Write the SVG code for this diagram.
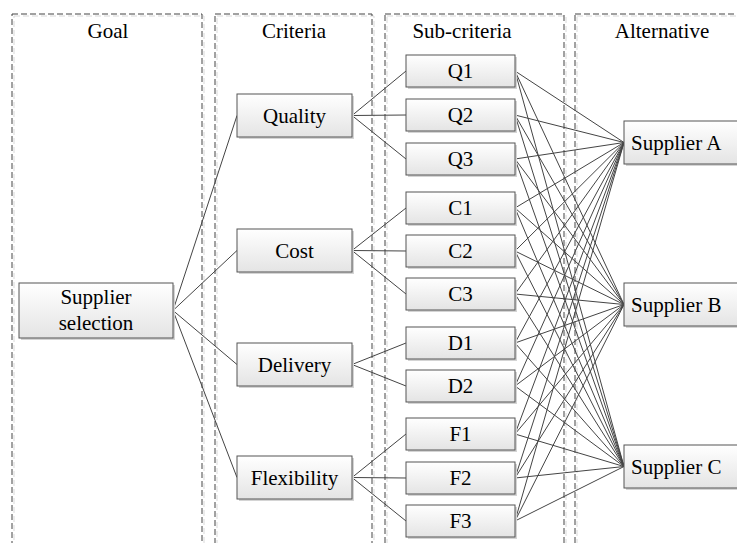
<svg xmlns="http://www.w3.org/2000/svg" width="737" height="543" viewBox="0 0 737 543">
<style>
.panel{fill:none;stroke:#444;stroke-width:1;stroke-dasharray:6,3}
.pshadow{fill:none;stroke:#d8d8d8;stroke-width:1;stroke-dasharray:6,3}
.box{fill:url(#g);stroke:#555;stroke-width:1}
.bshadow{fill:#d4d4d4}
.ln{stroke:#444;stroke-width:1;fill:none}
</style>
<defs>
<linearGradient id="g" x1="0" y1="0" x2="0" y2="1">
<stop offset="0" stop-color="#ffffff"/>
<stop offset="1" stop-color="#e4e4e4"/>
</linearGradient>
</defs>
<rect width="737" height="543" fill="#fff"/>
<g font-family="Liberation Serif, Times New Roman, serif" font-size="21" fill="#000" text-anchor="middle">
<g id="panels">
<rect class="pshadow" x="14" y="16" width="190" height="540"/>
<rect class="panel" x="12" y="14" width="190" height="540"/>
<rect class="pshadow" x="217" y="16" width="157" height="540"/>
<rect class="panel" x="215" y="14" width="157" height="540"/>
<rect class="pshadow" x="387" y="16" width="179" height="540"/>
<rect class="panel" x="385" y="14" width="179" height="540"/>
<rect class="pshadow" x="577" y="16" width="170" height="540"/>
<rect class="panel" x="575" y="14" width="170" height="540"/>
<text x="108" y="38">Goal</text>
<text x="294" y="38">Criteria</text>
<text x="462" y="38">Sub-criteria</text>
<text x="662" y="38">Alternative</text>
</g>
<g id="connectors">
<path class="ln" d="M173,310.5L237,115.5M173,310.5L237,250.5M173,310.5L237,364.5M173,310.5L237,477.5"/>
<path class="ln" d="M352,115.5L406,71M352,115.5L406,115M352,115.5L406,159"/>
<path class="ln" d="M352,250.5L406,208M352,250.5L406,251M352,250.5L406,294"/>
<path class="ln" d="M352,364.5L406,343M352,364.5L406,386"/>
<path class="ln" d="M352,477.5L406,434M352,477.5L406,478M352,477.5L406,521"/>
<path class="ln" d="M515,71L624,142.5M515,71L624,304.5M515,71L624,466.5
M515,115L624,142.5M515,115L624,304.5M515,115L624,466.5
M515,159L624,142.5M515,159L624,304.5M515,159L624,466.5
M515,208L624,142.5M515,208L624,304.5M515,208L624,466.5
M515,251L624,142.5M515,251L624,304.5M515,251L624,466.5
M515,294L624,142.5M515,294L624,304.5M515,294L624,466.5
M515,343L624,142.5M515,343L624,304.5M515,343L624,466.5
M515,386L624,142.5M515,386L624,304.5M515,386L624,466.5
M515,434L624,142.5M515,434L624,304.5M515,434L624,466.5
M515,478L624,142.5M515,478L624,304.5M515,478L624,466.5
M515,521L624,142.5M515,521L624,304.5M515,521L624,466.5"/>
</g>
<g id="goal"><rect class="bshadow" x="21" y="285" width="154" height="55"/><rect class="box" x="19" y="283" width="154" height="55"/><text x="96" y="304">Supplier</text><text x="96" y="330">selection</text></g>
<g id="quality"><rect class="bshadow" x="239" y="96" width="115" height="43"/><rect class="box" x="237" y="94" width="115" height="43"/><text x="294.5" y="122.5">Quality</text></g>
<g id="cost"><rect class="bshadow" x="239" y="231" width="115" height="43"/><rect class="box" x="237" y="229" width="115" height="43"/><text x="294.5" y="257.5">Cost</text></g>
<g id="delivery"><rect class="bshadow" x="239" y="345" width="115" height="43"/><rect class="box" x="237" y="343" width="115" height="43"/><text x="294.5" y="371.5">Delivery</text></g>
<g id="flexibility"><rect class="bshadow" x="239" y="458" width="115" height="43"/><rect class="box" x="237" y="456" width="115" height="43"/><text x="294.5" y="484.5">Flexibility</text></g>
<g id="q1"><rect class="bshadow" x="408" y="57" width="109" height="32"/><rect class="box" x="406" y="55" width="109" height="32"/><text x="460.5" y="78">Q1</text></g>
<g id="q2"><rect class="bshadow" x="408" y="101" width="109" height="32"/><rect class="box" x="406" y="99" width="109" height="32"/><text x="460.5" y="122">Q2</text></g>
<g id="q3"><rect class="bshadow" x="408" y="145" width="109" height="32"/><rect class="box" x="406" y="143" width="109" height="32"/><text x="460.5" y="166">Q3</text></g>
<g id="c1"><rect class="bshadow" x="408" y="194" width="109" height="32"/><rect class="box" x="406" y="192" width="109" height="32"/><text x="460.5" y="215">C1</text></g>
<g id="c2"><rect class="bshadow" x="408" y="237" width="109" height="32"/><rect class="box" x="406" y="235" width="109" height="32"/><text x="460.5" y="258">C2</text></g>
<g id="c3"><rect class="bshadow" x="408" y="280" width="109" height="32"/><rect class="box" x="406" y="278" width="109" height="32"/><text x="460.5" y="301">C3</text></g>
<g id="d1"><rect class="bshadow" x="408" y="329" width="109" height="32"/><rect class="box" x="406" y="327" width="109" height="32"/><text x="460.5" y="350">D1</text></g>
<g id="d2"><rect class="bshadow" x="408" y="372" width="109" height="32"/><rect class="box" x="406" y="370" width="109" height="32"/><text x="460.5" y="393">D2</text></g>
<g id="f1"><rect class="bshadow" x="408" y="420" width="109" height="32"/><rect class="box" x="406" y="418" width="109" height="32"/><text x="460.5" y="441">F1</text></g>
<g id="f2"><rect class="bshadow" x="408" y="464" width="109" height="32"/><rect class="box" x="406" y="462" width="109" height="32"/><text x="460.5" y="485">F2</text></g>
<g id="f3"><rect class="bshadow" x="408" y="507" width="109" height="32"/><rect class="box" x="406" y="505" width="109" height="32"/><text x="460.5" y="528">F3</text></g>
<g id="supplierA"><rect class="bshadow" x="626" y="123" width="118" height="43"/><rect class="box" x="624" y="121" width="118" height="43"/><text x="631" y="150" text-anchor="start">Supplier A</text></g>
<g id="supplierB"><rect class="bshadow" x="626" y="285" width="118" height="43"/><rect class="box" x="624" y="283" width="118" height="43"/><text x="631" y="312" text-anchor="start">Supplier B</text></g>
<g id="supplierC"><rect class="bshadow" x="626" y="447" width="118" height="43"/><rect class="box" x="624" y="445" width="118" height="43"/><text x="631" y="474" text-anchor="start">Supplier C</text></g>
</g>
</svg>
